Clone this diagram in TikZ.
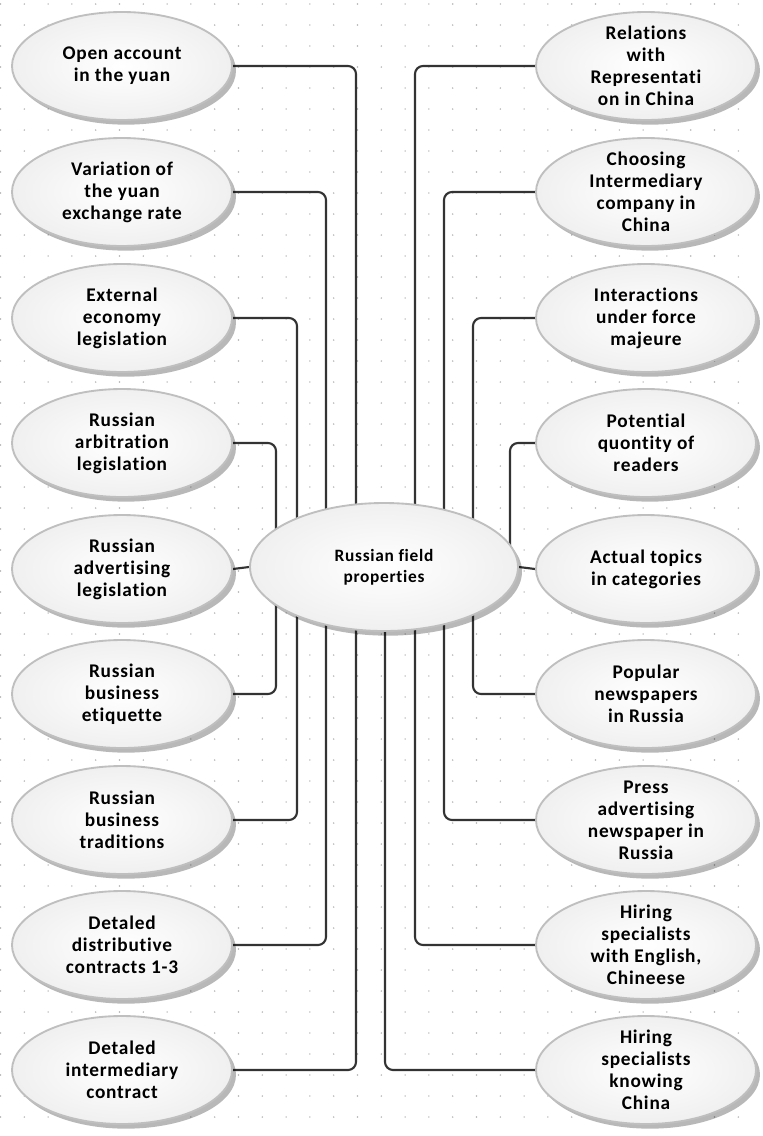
\documentclass[tikz,border=0pt]{standalone}
\usepackage{fontspec}
\setmainfont{Carlito}[LetterSpace=4,Ligatures={NoCommon,NoContextual}]
\usetikzlibrary{shapes.geometric,shadows,backgrounds,calc}
\tikzset{
  bub/.style={ellipse, draw=gray!50, line width=1.4pt, inner color=white, outer color=gray!12,
    minimum width=165pt, minimum height=81pt, inner sep=0pt,
    drop shadow={shadow xshift=3pt, shadow yshift=-3.5pt, fill=black, opacity=0.28}},
  hub/.style={bub, minimum width=201pt, minimum height=96pt},
  txt/.style={align=center, inner sep=0pt, text=black,
    font=\bfseries\fontsize{14.5}{16.5}\selectfont},
  hubtxt/.style={txt, font=\bfseries\fontsize{13}{16}\selectfont},
  conn/.style={draw=black!80, line width=1.6pt, rounded corners=6pt},
  griddot/.style={fill=gray!60, draw=none}
}
\begin{document}
\begin{tikzpicture}[x=0.75pt,y=-0.75pt]
\useasboundingbox (0,0) rectangle (763,1136);
% left bubbles
\node[bub] (L1) at (122,66) {};
\node[bub] (L2) at (122,192) {};
\node[bub] (L3) at (122,318) {};
\node[bub] (L4) at (122,443) {};
\node[bub] (L5) at (122,569) {};
\node[bub] (L6) at (122,694) {};
\node[bub] (L7) at (122,820) {};
\node[bub] (L8) at (122,945) {};
\node[bub] (L9) at (122,1070) {};
% right bubbles
\node[bub] (R1) at (646,66) {};
\node[bub] (R2) at (646,192) {};
\node[bub] (R3) at (646,318) {};
\node[bub] (R4) at (646,443) {};
\node[bub] (R5) at (646,569) {};
\node[bub] (R6) at (646,694) {};
\node[bub] (R7) at (646,820) {};
\node[bub] (R8) at (646,945) {};
\node[bub] (R9) at (646,1070) {};
% hub
\node[hub] (C) at (384,567) {};
% texts
\node[txt] (L1t) at (L1.center) {Open account\\in the yuan};
\node[txt] (L2t) at (L2.center) {Variation of\\the yuan\\exchange rate};
\node[txt] (L3t) at (L3.center) {External\\economy\\legislation};
\node[txt] (L4t) at (L4.center) {Russian\\arbitration\\legislation};
\node[txt] (L5t) at (L5.center) {Russian\\advertising\\legislation};
\node[txt] (L6t) at (L6.center) {Russian\\business\\etiquette};
\node[txt] (L7t) at (L7.center) {Russian\\business\\traditions};
\node[txt] (L8t) at (L8.center) {Detaled\\distributive\\contracts 1-3};
\node[txt] (L9t) at (L9.center) {Detaled\\intermediary\\contract};
\node[txt] (R1t) at (R1.center) {Relations\\with\\Representati\\on in China};
\node[txt] (R2t) at (R2.center) {Choosing\\Intermediary\\company in\\China};
\node[txt] (R3t) at (R3.center) {Interactions\\under force\\majeure};
\node[txt] (R4t) at (R4.center) {Potential\\quontity of\\readers};
\node[txt] (R5t) at (R5.center) {Actual topics\\in categories};
\node[txt] (R6t) at (R6.center) {Popular\\newspapers\\in Russia};
\node[txt] (R7t) at (R7.center) {Press\\advertising\\newspaper in\\Russia};
\node[txt] (R8t) at (R8.center) {Hiring\\specialists\\with English,\\Chineese};
\node[txt] (R9t) at (R9.center) {Hiring\\specialists\\knowing\\China};
\node[hubtxt] (Ct) at (C.center) {Russian field\\properties};
\begin{pgfonlayer}{background}
  \fill[white] (0,0) rectangle (763,1136);
  \foreach \gx in {0,...,31} {
    \foreach \gy in {0,...,54} {
      \fill[griddot] ({0.5+23.8*\gx},{4+21*\gy}) circle (0.8);
    }
  }
  % left connectors
  \draw[conn] (L1.east) -| ($(C.center)+(-28,0)$);
  \draw[conn] (L2.east) -| ($(C.center)+(-58,0)$);
  \draw[conn] (L3.east) -| ($(C.center)+(-87,0)$);
  \draw[conn] (L4.east) -| ($(C.center)+(-108,0)$);
  \draw[conn] (L5.east) -- (C.west);
  \draw[conn] (L6.east) -| ($(C.center)+(-108,0)$);
  \draw[conn] (L7.east) -| ($(C.center)+(-87,0)$);
  \draw[conn] (L8.east) -| ($(C.center)+(-58,0)$);
  \draw[conn] (L9.east) -| ($(C.center)+(-28,0)$);
  % right connectors
  \draw[conn] (R1.west) -| ($(C.center)+(31,0)$);
  \draw[conn] (R2.west) -| ($(C.center)+(60,0)$);
  \draw[conn] (R3.west) -| ($(C.center)+(89,0)$);
  \draw[conn] (R4.west) -| ($(C.center)+(126,0)$);
  \draw[conn] (R5.west) -- (C.east);
  \draw[conn] (R6.west) -| ($(C.center)+(89,0)$);
  \draw[conn] (R7.west) -| ($(C.center)+(60,0)$);
  \draw[conn] (R8.west) -| ($(C.center)+(31,0)$);
  \draw[conn] (R9.west) -| ($(C.center)+(1,0)$);
\end{pgfonlayer}
\end{tikzpicture}
\end{document}
